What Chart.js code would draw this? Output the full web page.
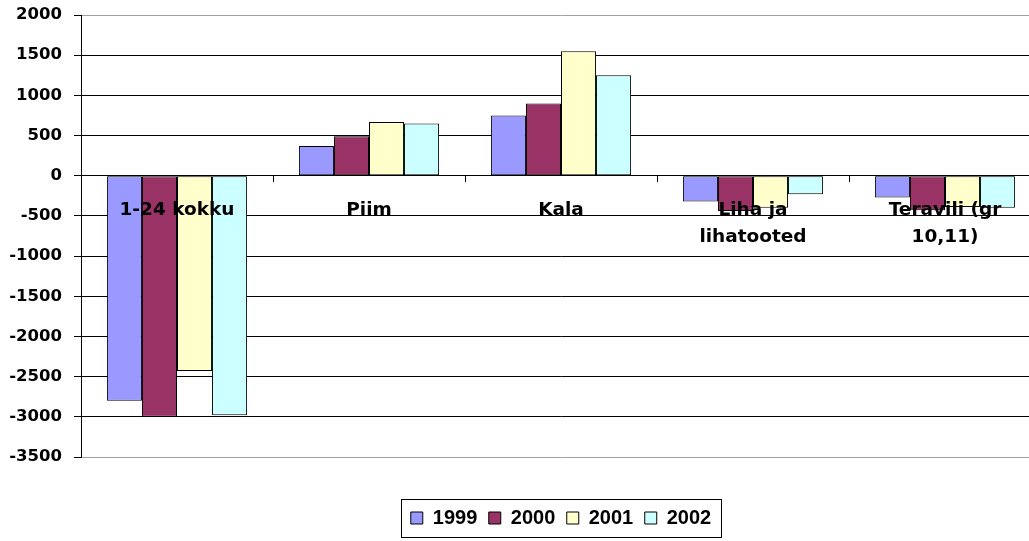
<!DOCTYPE html>
<html>
<head>
<meta charset="utf-8">
<script src="https://cdn.jsdelivr.net/npm/chart.js@4/dist/chart.umd.min.js"></script>
<style>
  html, body { margin: 0; padding: 0; background: #fff; overflow: hidden; }
  #wrap { position: absolute; left: 0; top: 0; width: 1045px; height: 541px; }
</style>
</head>
<body>
<div id="wrap"><canvas id="tradeChart"></canvas></div>
<script>
// categories and yearly values
const categories = ['1-24 kokku', 'Piim', 'Kala', ['Liha ja', 'lihatooted'], ['Teravili (gr', '10,11)']];
const years = ['1999', '2000', '2001', '2002'];
const values1999 = [-2800, 370, 750, -320, -270];
const values2000 = [-3000, 490, 900, -440, -430];
const values2001 = [-2430, 670, 1550, -400, -390];
const values2002 = [-2980, 650, 1250, -230, -400];
const yTicks = [2000, 1500, 1000, 500, 0, -500, -1000, -1500, -2000, -2500, -3000, -3500];

const colors = ['#9999FF', '#993366', '#FFFFCC', '#CCFFFF'];
const series = [values1999, values2000, values2001, values2002];

// draws the frame round the legend, like the Excel one
const legendFrame = {
  id: 'legendFrame',
  afterDraw(chart) {
    const hb = chart.legend.legendHitBoxes;
    if (!hb || !hb.length) return;
    const last = hb[hb.length - 1];
    const l = hb[0].left - 10;
    const r = last.left + last.width + 10;
    const t = hb[0].top - 9;
    const b = hb[0].top + hb[0].height + 9;
    const ctx = chart.ctx;
    ctx.save();
    ctx.strokeStyle = '#000';
    ctx.lineWidth = 1;
    ctx.strokeRect(Math.round(l) + 0.5, Math.round(t) + 0.5, Math.round(r - l), Math.round(b - t));
    ctx.restore();
  }
};

const ctx = document.getElementById('tradeChart').getContext('2d');
new Chart(ctx, {
  type: 'bar',
  data: {
    labels: categories,
    datasets: years.map((y, i) => ({
      label: y,
      data: series[i],
      backgroundColor: colors[i],
      borderColor: '#000',
      borderWidth: 1,
      borderSkipped: false,
      categoryPercentage: 0.73,
      barPercentage: 1
    }))
  },
  options: {
    responsive: true,
    maintainAspectRatio: false,
    animation: false,
    layout: { padding: { left: 0, right: 4, top: 15, bottom: 3 } },
    plugins: {
      tooltip: { enabled: false },
      legend: {
        position: 'bottom',
        fullSize: false,
        title: { display: true, text: ' ', font: { size: 10, lineHeight: 1 }, padding: { top: 0, bottom: 29.5 } },
        labels: {
          boxWidth: 12,
          boxHeight: 12,
          padding: 11.5,
          color: '#000',
          font: { family: '"Liberation Sans", Arial, sans-serif', size: 20, weight: 'bold' }
        }
      }
    },
    scales: {
      x: {
        position: { y: 0 },
        grid: { offset: true, drawOnChartArea: false, drawTicks: true, tickLength: 6, color: '#000', z: 1 },
        border: { display: true, color: '#000', width: 1, z: 1 },
        ticks: {
          z: 2,
          color: '#000',
          padding: 14.5,
          maxRotation: 0,
          autoSkip: false,
          font: { family: '"DejaVu Sans", sans-serif', size: 18.5, weight: 'bold', lineHeight: '27px' }
        }
      },
      y: {
        min: -3500,
        max: 2000,
        afterFit(scale) {
          scale.width = 81;
          scale.paddingTop = 0;
          scale.paddingBottom = 0;
        },
        afterBuildTicks(scale) { scale.ticks = yTicks.map(v => ({ value: v })); },
        grid: {
          color: c => (c.tick && (c.tick.value === 2000 || c.tick.value === -3500)) ? '#a0a0a0' : '#000',
          tickColor: '#000',
          tickLength: 7,
          drawTicks: true
        },
        border: { display: true, color: '#000', width: 1 },
        ticks: {
          color: '#000',
          padding: 12,
          callback: v => String(v),
          font: { family: '"DejaVu Sans", sans-serif', size: 16.5, weight: 'bold' }
        }
      }
    }
  },
  plugins: [legendFrame]
});
</script>
</body>
</html>
